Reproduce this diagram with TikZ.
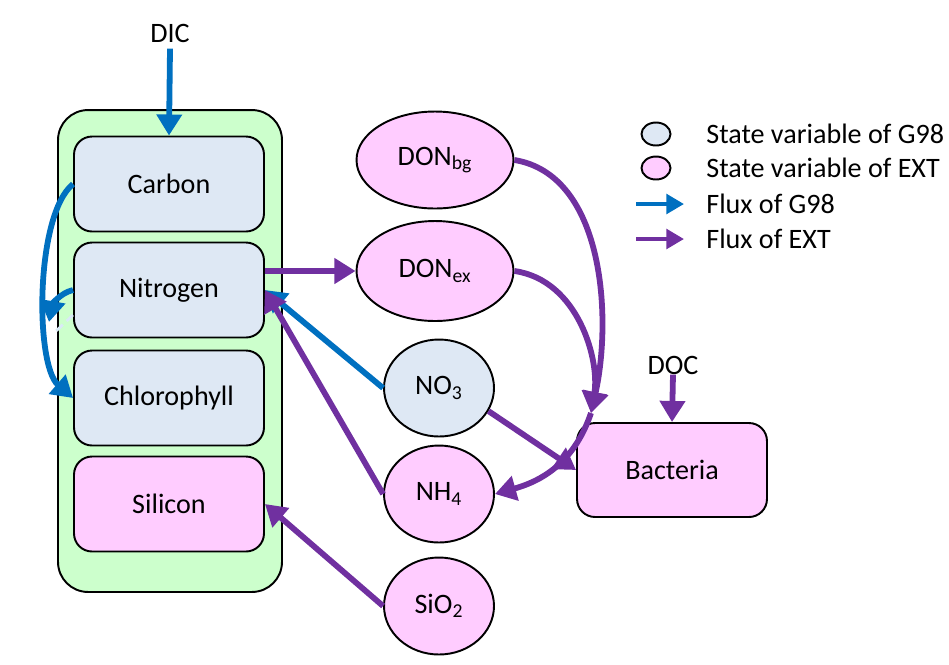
\documentclass[tikz,border=0pt]{standalone}
\usepackage{fontspec}
\setmainfont{Carlito}
\usetikzlibrary{arrows.meta,shapes.geometric}
\definecolor{gblue}{HTML}{0070C0}
\definecolor{epurple}{HTML}{7030A0}
\definecolor{gfill}{HTML}{DEE8F4}
\definecolor{efill}{HTML}{FFCCFF}
\definecolor{cellfill}{HTML}{CCFFCC}
\tikzset{
	pool/.style={draw, line width=1.1pt, rounded corners=0.36cm, minimum width=3.8cm, minimum height=1.9cm, font=\fontsize{16}{19}\selectfont},
	blob/.style={draw, line width=1.1pt, ellipse, inner sep=0pt, font=\fontsize{16}{19}\selectfont},
	gflux/.style={gblue, line width=3.3pt, -{Triangle[length=12pt,width=14pt]}},
	eflux/.style={epurple, line width=3.3pt, -{Triangle[length=12pt,width=14pt]}},
	lab/.style={font=\fontsize{16}{19}\selectfont, inner sep=0pt}
}

\begin{document}
\begin{tikzpicture}[x=0.02cm,y=-0.02cm]
		\useasboundingbox (0,0) rectangle (949,664);
		% phytoplankton cell
		\node[draw, line width=1.1pt, fill=cellfill, rounded corners=0.6cm, minimum width=4.48cm, minimum height=9.64cm] (cell) at (170,351) {};
		\node[pool, fill=gfill] (carbon) at (169,184) {Carbon};
		\node[pool, fill=gfill] (nitro) at (169,290) {Nitrogen};
		\node[pool, fill=gfill] (chl) at (169,398) {Chlorophyll};
		\node[pool, fill=efill] (sil) at (169,504) {Silicon};
		\node[lab] (dic) at (170,33) {DIC};
		% dissolved pools
		\node[blob, fill=efill, minimum width=3.14cm, minimum height=1.94cm] (donbg) at (435,160) {DON\textsubscript{bg}};
		\node[blob, fill=efill, minimum width=3.14cm, minimum height=2.0cm] (donex) at (435,271) {DON\textsubscript{ex}};
		\node[blob, fill=gfill, minimum width=2.2cm, minimum height=1.94cm] (no3) at (439,388) {NO\textsubscript{3}};
		\node[blob, fill=efill, minimum width=2.2cm, minimum height=1.94cm] (nh4) at (439,494) {NH\textsubscript{4}};
		\node[blob, fill=efill, minimum width=2.2cm, minimum height=1.94cm] (sio2) at (439,606) {SiO\textsubscript{2}};
		\node[pool, fill=efill, minimum height=1.88cm] (bact) at (672,470) {Bacteria};
		\node[lab] (doc) at (673,365) {DOC};
		% fluxes of G98
		\draw[gflux] (dic.south) ++(0,6) coordinate (dictop) (dictop) -- (carbon.north);
		\draw[gflux] (carbon.west) .. controls (35,215) and (35,365) .. (chl.west);
		\coordinate (nlow) at (49,322);
		\draw[gflux] (nitro.west) .. controls (60,293) and (52,305) .. (nlow);
		\coordinate (da) at (73,315);
		\coordinate (db) at (54,333);
		\draw[white!85!gblue, line width=1.6pt, dash pattern=on 5pt off 3pt] (da) -- (db);
		\draw[gflux] (no3.west) -- (nitro.east);
		% fluxes of EXT
		\draw[eflux] (nitro.east |- donex) -- (donex.west);
		\draw[eflux] (nh4.west) -- (nitro.east);
		\draw[eflux] (sio2.west) -- (sil.east);
		\draw[eflux] (doc.south) -- (bact.north);
		\coordinate (btop) at (591,413);
		\draw[eflux] (donbg.east) .. controls (605,175) and (612,320) .. (btop);
		\draw[eflux] (donex.east) .. controls (578,280) and (600,360) .. (btop);
		\draw[eflux] (btop) .. controls (575,460) and (545,480) .. (nh4.east);
		\draw[eflux] (no3.-25) -- (bact.west);
		% legend
		\foreach \y/\c/\t in {134/gfill/State variable of G98, 168/efill/State variable of EXT}{
			\node[blob, fill=\c, minimum width=0.58cm, minimum height=0.46cm] (key\c) at (656,\y) {};
			\node[lab, anchor=west] at (706,\y) {\t};
		}
		\foreach \y/\c/\t in {204/gblue/Flux of G98, 239/epurple/Flux of EXT}{
			\coordinate (ka\c) at (636,\y);
			\coordinate (kb\c) at (684,\y);
			\draw[\c, line width=2.4pt, -{Triangle[length=10pt,width=11pt]}] (ka\c) -- (kb\c);
			\node[lab, anchor=west] at (706,\y) {\t};
		}
\end{tikzpicture}
\end{document}
